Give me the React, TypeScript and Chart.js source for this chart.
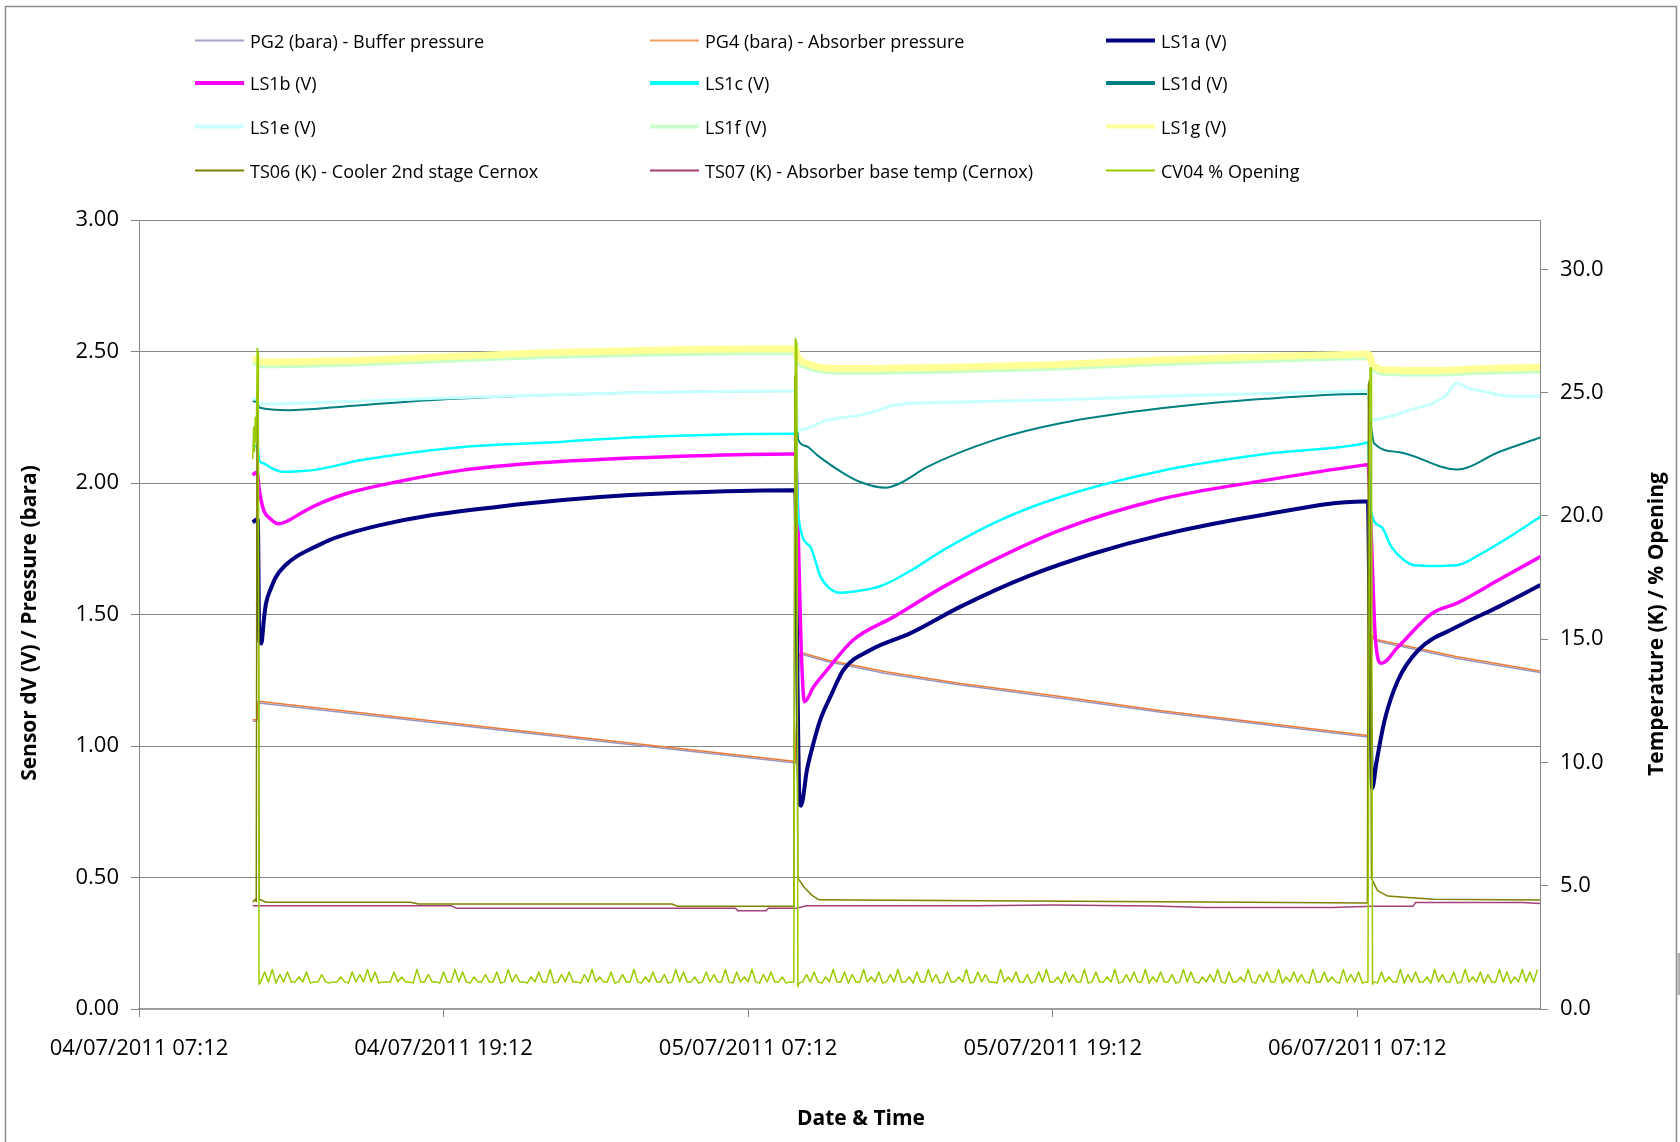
import React, { useEffect, useRef } from 'react';
import { Chart, registerables } from 'chart.js';

Chart.register(...registerables);

const W = 1680;
const H = 1142;
const FONT = '"Open Sans", "Liberation Sans", sans-serif';

// ---------- axis data ----------
const xMinHours = 0;
const xMaxHours = 55.2;
const xTickHours = [0, 12, 24, 36, 48];
const xTickLabels = ['04/07/2011 07:12', '04/07/2011 19:12', '05/07/2011 07:12', '05/07/2011 19:12', '06/07/2011 07:12'];
const leftAxisMax = 3;
const rightAxisMax = 32;

// ---------- series data (hours after 04/07/2011 07:12) ----------
const pgHours = [4.48, 4.64, 4.70, 4.80, 15.0, 25.8, 25.86, 26.0, 26.12, 27.11, 29.42, 32.37, 36.3, 40.27, 48.25, 48.45, 48.58, 48.75, 51.93, 55.22];
const pg2Values = [1.094, 1.094, 1.164, 1.163, 1.052, 0.936, 0.934, 1.344, 1.349, 1.321, 1.276, 1.232, 1.182, 1.128, 1.036, 1.034, 1.414, 1.399, 1.333, 1.279];
const pg4Values = [1.10, 1.10, 1.17, 1.169, 1.058, 0.942, 0.94, 1.35, 1.355, 1.327, 1.282, 1.238, 1.188, 1.134, 1.042, 1.04, 1.42, 1.405, 1.339, 1.285];

const ls1aHours = [4.48, 4.62, 4.68, 4.74, 4.82, 4.92, 5.0, 5.2, 5.4, 5.8, 6.2, 7.0, 7.5, 8.5, 9.5, 11.5, 14.1, 16.7, 19.35, 22.0, 25.8,
  25.86, 25.95, 26.02, 26.08, 26.32, 26.6, 26.84, 27.3, 27.76, 28.82, 30.4, 32.37, 34.99, 37.61, 40.27, 44.37, 48.25,
  48.42, 48.5, 48.59, 48.75, 49.08, 49.61, 50.41, 51.93, 53.58, 55.22];
const ls1aValues = [1.85, 1.86, 1.86, 1.40, 1.39, 1.48, 1.54, 1.60, 1.644, 1.69, 1.72, 1.76, 1.783, 1.815, 1.84, 1.877, 1.909, 1.935, 1.954, 1.965, 1.972,
  1.97, 1.2, 0.80, 0.773, 0.91, 1.02, 1.099, 1.2, 1.29, 1.365, 1.429, 1.53, 1.644, 1.732, 1.802, 1.88, 1.93,
  1.93, 1.3, 0.84, 0.934, 1.099, 1.251, 1.365, 1.453, 1.53, 1.612];

const ls1bHours = [4.48, 4.62, 4.68, 4.72, 4.9, 5.15, 5.5, 5.9, 6.46, 7.2, 8.18, 10.14, 12.76, 15.41, 19.35, 22.5, 25.8,
  25.86, 25.95, 26.08, 26.22, 26.58, 27.11, 28.14, 29.73, 31.69, 33.68, 36.3, 40.27, 44.37, 48.25,
  48.42, 48.55, 48.72, 48.95, 49.61, 50.94, 51.93, 53.58, 55.22];
const ls1bValues = [2.03, 2.04, 2.03, 1.99, 1.90, 1.866, 1.845, 1.858, 1.89, 1.925, 1.96, 2.004, 2.049, 2.074, 2.095, 2.105, 2.11,
  2.11, 1.9, 1.4, 1.168, 1.225, 1.289, 1.403, 1.491, 1.605, 1.707, 1.821, 1.939, 2.01, 2.068,
  2.07, 1.8, 1.4, 1.315, 1.377, 1.504, 1.543, 1.632, 1.72];

const ls1cHours = [4.48, 4.62, 4.68, 4.74, 4.9, 5.2, 5.66, 6.3, 6.86, 8.83, 12.76, 16.72, 19.35, 22.0, 25.8,
  25.86, 25.98, 26.45, 26.85, 27.2, 27.63, 28.5, 29.32, 30.5, 31.69, 33.93, 36.3, 40.27, 44.37, 48.25,
  48.42, 48.53, 48.95, 49.34, 49.8, 50.27, 51.0, 51.93, 52.9, 54.08, 55.22];
const ls1cValues = [2.14, 2.14, 2.13, 2.085, 2.075, 2.058, 2.043, 2.045, 2.049, 2.088, 2.137, 2.157, 2.173, 2.182, 2.187,
  2.187, 1.872, 1.757, 1.644, 1.6, 1.583, 1.592, 1.612, 1.672, 1.745, 1.859, 1.947, 2.046, 2.11, 2.15,
  2.155, 1.897, 1.833, 1.758, 1.71, 1.687, 1.684, 1.687, 1.732, 1.80, 1.872];

const ls1dHours = [4.48, 4.62, 4.68, 4.74, 5.9, 8.0, 11.4, 15.6, 19.35, 25.8,
  25.86, 25.94, 25.98, 26.3, 26.72, 27.76, 28.42, 29.41, 30.0, 31.06, 33.68, 36.3, 40.27, 44.37, 48.25,
  48.42, 48.53, 48.67, 49.61, 51.93, 53.58, 55.22];
const ls1dValues = [2.31, 2.31, 2.30, 2.287, 2.277, 2.29, 2.315, 2.333, 2.343, 2.35,
  2.35, 2.2, 2.163, 2.14, 2.106, 2.037, 2.004, 1.982, 2.0, 2.061, 2.163, 2.227, 2.284, 2.32, 2.338,
  2.338, 2.227, 2.15, 2.118, 2.051, 2.118, 2.173];

const ls1eHours = [4.48, 4.62, 4.68, 4.74, 6.0, 8.9, 11.4, 15.6, 19.35, 25.8,
  25.86, 25.98, 27.11, 28.4, 29.0, 29.75, 32.37, 36.3, 40.27, 44.37, 48.25,
  48.42, 48.53, 49.6, 50.27, 50.94, 51.46, 51.93, 52.4, 52.9, 53.96, 55.22];
const ls1eValues = [2.32, 2.32, 2.31, 2.30, 2.302, 2.312, 2.321, 2.333, 2.343, 2.35,
  2.35, 2.2, 2.239, 2.258, 2.272, 2.296, 2.308, 2.317, 2.33, 2.34, 2.35,
  2.35, 2.24, 2.262, 2.283, 2.302, 2.33, 2.38, 2.36, 2.35, 2.33, 2.33];

const ls1fgHours = [4.48, 4.62, 4.68, 4.74, 8, 12, 16, 19.35, 25.8,
  25.86, 25.95, 26.3, 27.76, 32, 36, 40.27, 44.37, 48.3,
  48.45, 48.6, 49.2, 51, 53, 55.22];
const ls1fValues = [2.456, 2.456, 2.456, 2.446, 2.451, 2.466, 2.481, 2.489, 2.496,
  2.496, 2.466, 2.441, 2.421, 2.426, 2.436, 2.454, 2.466, 2.476,
  2.476, 2.436, 2.416, 2.414, 2.421, 2.426];
const ls1gValues = [2.47, 2.47, 2.47, 2.46, 2.465, 2.48, 2.495, 2.503, 2.51,
  2.51, 2.48, 2.455, 2.435, 2.44, 2.45, 2.468, 2.48, 2.49,
  2.49, 2.45, 2.43, 2.428, 2.435, 2.44];

const ts06Hours = [4.48, 4.58, 4.62, 4.65, 4.69, 4.74, 5.0, 10.7, 11, 21, 21.2, 25.8, 25.84, 25.88, 25.96, 26.2, 26.5, 26.8, 28, 35, 42, 48.4, 48.44, 48.48, 48.56, 48.8, 49.2, 50, 51, 55.22];
const ts06Values = [4.33, 4.45, 4.35, 25.0, 25.3, 4.45, 4.33, 4.33, 4.26, 4.26, 4.17, 4.17, 25.6, 25.8, 5.31, 4.95, 4.62, 4.43, 4.42, 4.38, 4.34, 4.3, 25.3, 25.5, 5.3, 4.8, 4.58, 4.52, 4.45, 4.42];

const ts07Hours = [4.48, 12.3, 12.5, 23.5, 23.6, 24.7, 24.8, 25.9, 26.3, 33, 36, 40, 42, 47, 48.6, 50.2, 50.3, 54.5, 55.22];
const ts07Values = [4.19, 4.19, 4.09, 4.09, 3.98, 3.98, 4.09, 4.09, 4.19, 4.19, 4.22, 4.18, 4.12, 4.12, 4.17, 4.17, 4.32, 4.32, 4.28];

// CV04: regeneration spikes
const cv04Event1Hours = [4.48, 4.52, 4.55, 4.58, 4.62, 4.66, 4.70, 4.73];
const cv04Event1Values = [22.3, 23.6, 22.6, 24.0, 23.0, 26.8, 26.6, 1.0];
const cv04Event2Hours = [25.8, 25.86, 25.92, 25.96];
const cv04Event2Values = [1.1, 27.2, 27.0, 0.9];
const cv04Event3Hours = [48.42, 48.5, 48.56, 48.6];
const cv04Event3Values = [1.1, 26.0, 26.0, 1.0];
// CV04: sampled readings between events (every 0.15 h)
const cv04SampleStep = 0.15;
const cv04SegAStart = 4.8;
const cv04SegAValues = [
  1.1, 1.5, 1.1, 1.6, 1.05, 1.4, 1.1, 1.5, 1.1, 1.1, 1.3, 1.1, 1.5, 1.05, 1.1, 1.1, 1.4, 1.1, 1.05, 1.1,
  1.1, 1.3, 1.1, 1.05, 1.5, 1.1, 1.4, 1.1, 1.6, 1.1, 1.5, 1.05, 1.1, 1.1, 1.1, 1.5, 1.1, 1.3, 1.1, 1.1,
  1.05, 1.6, 1.1, 1.1, 1.4, 1.1, 1.1, 1.05, 1.5, 1.1, 1.1, 1.6, 1.1, 1.5, 1.1, 1.05, 1.3, 1.1, 1.1, 1.4,
  1.1, 1.1, 1.5, 1.05, 1.1, 1.6, 1.1, 1.4, 1.1, 1.1, 1.05, 1.3, 1.1, 1.5, 1.1, 1.1, 1.6, 1.05, 1.1, 1.4,
  1.1, 1.5, 1.1, 1.1, 1.05, 1.4, 1.1, 1.6, 1.1, 1.3, 1.1, 1.1, 1.5, 1.05, 1.1, 1.4, 1.1, 1.1, 1.6, 1.1,
  1.05, 1.3, 1.1, 1.5, 1.1, 1.1, 1.4, 1.05, 1.1, 1.6, 1.1, 1.5, 1.1, 1.1, 1.3, 1.05, 1.1, 1.5, 1.1, 1.4,
  1.1, 1.1, 1.6, 1.1, 1.05, 1.5, 1.1, 1.3, 1.1, 1.6, 1.1, 1.05, 1.4, 1.1, 1.5, 1.1, 1.1, 1.3, 1.05, 1.1,
];
const cv04SegBStart = 26.0;
const cv04SegBValues = [
  1.05, 1.1, 1.4, 1.1, 1.5, 1.1, 1.05, 1.3, 1.1, 1.6, 1.1, 1.1, 1.5, 1.05, 1.4, 1.1, 1.1, 1.6, 1.1, 1.3,
  1.1, 1.5, 1.05, 1.1, 1.4, 1.1, 1.6, 1.1, 1.1, 1.3, 1.05, 1.5, 1.1, 1.1, 1.6, 1.1, 1.4, 1.05, 1.1, 1.5,
  1.1, 1.1, 1.3, 1.1, 1.6, 1.05, 1.1, 1.5, 1.1, 1.4, 1.1, 1.1, 1.05, 1.6, 1.1, 1.3, 1.1, 1.5, 1.1, 1.1,
  1.4, 1.05, 1.1, 1.5, 1.1, 1.6, 1.1, 1.1, 1.3, 1.05, 1.5, 1.1, 1.4, 1.1, 1.1, 1.6, 1.05, 1.1, 1.5, 1.1,
  1.1, 1.3, 1.1, 1.6, 1.05, 1.1, 1.4, 1.1, 1.5, 1.1, 1.1, 1.6, 1.05, 1.3, 1.1, 1.5, 1.1, 1.1, 1.4, 1.05,
  1.1, 1.6, 1.1, 1.5, 1.1, 1.05, 1.3, 1.1, 1.4, 1.1, 1.6, 1.1, 1.05, 1.5, 1.1, 1.1, 1.3, 1.1, 1.6, 1.1,
  1.05, 1.4, 1.1, 1.5, 1.1, 1.1, 1.6, 1.05, 1.3, 1.1, 1.5, 1.1, 1.4, 1.1, 1.05, 1.6, 1.1, 1.1, 1.5, 1.1,
  1.3, 1.1, 1.05, 1.6, 1.1, 1.4, 1.1, 1.5, 1.05, 1.1,
];
const cv04SegCStart = 48.65;
const cv04SegCValues = [
  1.1, 1.05, 1.5, 1.1, 1.3, 1.1, 1.1, 1.6, 1.05, 1.4, 1.1, 1.5, 1.1, 1.1, 1.3, 1.05, 1.6, 1.1, 1.4, 1.1,
  1.1, 1.5, 1.05, 1.1, 1.6, 1.1, 1.3, 1.1, 1.5, 1.05, 1.4, 1.1, 1.1, 1.6, 1.1, 1.5, 1.05, 1.3, 1.1, 1.6,
  1.1, 1.5, 1.1, 1.6,
];

// ---------- helpers ----------
const pairs = (hours: number[], values: number[]) => hours.map((x, i) => ({ x, y: values[i] }));
const sampled = (start: number, step: number, values: number[]) => values.map((y, i) => ({ x: start + i * step, y }));

const cv04Points = [
  ...pairs(cv04Event1Hours, cv04Event1Values),
  ...sampled(cv04SegAStart, cv04SampleStep, cv04SegAValues),
  ...pairs(cv04Event2Hours, cv04Event2Values),
  ...sampled(cv04SegBStart, cv04SampleStep, cv04SegBValues),
  ...pairs(cv04Event3Hours, cv04Event3Values),
  ...sampled(cv04SegCStart, cv04SampleStep, cv04SegCValues),
];

type Series = { label: string; points: { x: number; y: number }[]; color: string; legendColor: string; width: number; legendWidth: number; axis: 'y' | 'y1'; smooth: boolean };

const series: Series[] = [
  { label: 'PG2 (bara) - Buffer pressure', points: pairs(pgHours, pg2Values), color: '#9696C4', legendColor: '#A3A3C8', width: 1.5, legendWidth: 2, axis: 'y', smooth: false },
  { label: 'PG4 (bara) - Absorber pressure', points: pairs(pgHours, pg4Values), color: '#EE7A36', legendColor: '#F79A5E', width: 1.5, legendWidth: 2, axis: 'y', smooth: false },
  { label: 'LS1a (V)', points: pairs(ls1aHours, ls1aValues), color: '#000080', legendColor: '#000080', width: 4, legendWidth: 4, axis: 'y', smooth: true },
  { label: 'LS1b (V)', points: pairs(ls1bHours, ls1bValues), color: '#FF00FF', legendColor: '#FF00FF', width: 3.5, legendWidth: 4, axis: 'y', smooth: true },
  { label: 'LS1c (V)', points: pairs(ls1cHours, ls1cValues), color: '#00FFFF', legendColor: '#00FFFF', width: 2.5, legendWidth: 4, axis: 'y', smooth: true },
  { label: 'LS1d (V)', points: pairs(ls1dHours, ls1dValues), color: '#008080', legendColor: '#008080', width: 2, legendWidth: 4, axis: 'y', smooth: true },
  { label: 'LS1e (V)', points: pairs(ls1eHours, ls1eValues), color: '#C8FFFF', legendColor: '#CCFFFF', width: 3, legendWidth: 4, axis: 'y', smooth: true },
  { label: 'LS1f (V)', points: pairs(ls1fgHours, ls1fValues), color: '#C8FFC8', legendColor: '#CCFFCC', width: 5, legendWidth: 4, axis: 'y', smooth: true },
  { label: 'LS1g (V)', points: pairs(ls1fgHours, ls1gValues), color: '#FFFF96', legendColor: '#FFFF99', width: 7, legendWidth: 4, axis: 'y', smooth: true },
  { label: 'TS06 (K) - Cooler 2nd stage Cernox', points: pairs(ts06Hours, ts06Values), color: '#808000', legendColor: '#808000', width: 1.5, legendWidth: 2, axis: 'y1', smooth: false },
  { label: 'TS07 (K) - Absorber base temp (Cernox)', points: pairs(ts07Hours, ts07Values), color: '#A3407A', legendColor: '#A3407A', width: 1.5, legendWidth: 2, axis: 'y1', smooth: false },
  { label: 'CV04 % Opening', points: cv04Points, color: '#99CC00', legendColor: '#99CC00', width: 1.5, legendWidth: 2, axis: 'y1', smooth: false },
];

// ---------- layout constants ----------
const legendColX = [195, 650, 1106];
const legendRowY = [41, 83.5, 127, 171];
const legendLineLen = 49;
const legendTextGap = 55;

const decorPlugin = {
  id: 'decor',
  beforeDraw(chart: any) {
    const ctx = chart.ctx as CanvasRenderingContext2D;
    ctx.save();
    ctx.fillStyle = '#ffffff';
    ctx.fillRect(0, 0, W, H);
    ctx.strokeStyle = '#8C8C8C';
    ctx.lineWidth = 1.5;
    ctx.beginPath();
    ctx.moveTo(5.5, H + 5);
    ctx.lineTo(5.5, 6.5);
    ctx.lineTo(1676.5, 6.5);
    ctx.lineTo(1676.5, H + 5);
    ctx.stroke();
    ctx.fillStyle = '#B0B0B0';
    ctx.fillRect(1677.5, 953, 3, 42);
    ctx.restore();
  },
  afterDraw(chart: any) {
    const ctx = chart.ctx as CanvasRenderingContext2D;
    ctx.save();
    // legend
    ctx.font = `18px ${FONT}`;
    ctx.textAlign = 'left';
    ctx.textBaseline = 'alphabetic';
    series.forEach((s, i) => {
      const col = i % 3;
      const row = Math.floor(i / 3);
      const x = legendColX[col];
      const y = legendRowY[row];
      ctx.strokeStyle = s.legendColor;
      ctx.lineWidth = s.legendWidth;
      ctx.lineCap = 'butt';
      ctx.beginPath();
      ctx.moveTo(x, y - 0.5);
      ctx.lineTo(x + legendLineLen, y - 0.5);
      ctx.stroke();
      ctx.fillStyle = '#000000';
      ctx.fillText(s.label, x + legendTextGap, y + 6.5);
    });
    // axis titles
    ctx.fillStyle = '#000000';
    ctx.font = `bold 21px ${FONT}`;
    ctx.textAlign = 'center';
    ctx.textBaseline = 'alphabetic';
    ctx.fillText('Date & Time', 861, 1125);

    ctx.save();
    ctx.translate(35.5, 623);
    ctx.rotate(-Math.PI / 2);
    ctx.fillText('Sensor dV (V) / Pressure (bara)', 0, 0);
    ctx.restore();

    ctx.save();
    ctx.translate(1663, 624);
    ctx.rotate(-Math.PI / 2);
    ctx.fillText('Temperature (K) / % Opening', 0, 0);
    ctx.restore();

    ctx.restore();
  },
};

export default function App() {
  const canvasRef = useRef<HTMLCanvasElement | null>(null);

  useEffect(() => {
    const canvas = canvasRef.current;
    if (!canvas) return;
    const n = series.length;
    const tickFont = { family: FONT, size: 22 };
    const chart = new Chart(canvas, {
      type: 'line',
      data: {
        datasets: series.map((s, i) => ({
          label: s.label,
          data: s.points,
          yAxisID: s.axis,
          borderColor: s.color,
          backgroundColor: s.color,
          borderWidth: s.width,
          pointRadius: 0,
          pointHoverRadius: 0,
          fill: false,
          tension: 0,
          cubicInterpolationMode: s.smooth ? 'monotone' : 'default',
          borderJoinStyle: 'round',
          borderCapStyle: 'butt',
          order: n - i,
        })) as any,
      },
      options: {
        responsive: false,
        maintainAspectRatio: false,
        animation: false,
        devicePixelRatio: 1,
        events: [],
        layout: { padding: { top: 220, left: 0, right: 0, bottom: 0 } },
        plugins: {
          legend: { display: false },
          tooltip: { enabled: false },
          title: { display: false },
        },
        scales: {
          x: {
            type: 'linear',
            position: 'bottom',
            min: xMinHours,
            max: xMaxHours,
            afterFit: (scale: any) => { scale.height = 133; },
            ticks: {
              stepSize: 12,
              includeBounds: false,
              autoSkip: false,
              maxRotation: 0,
              minRotation: 0,
              padding: 19,
              color: '#000000',
              font: tickFont,
              callback: (v: any) => {
                const idx = xTickHours.indexOf(Number(v));
                return idx >= 0 ? xTickLabels[idx] : '';
              },
            },
            grid: { drawOnChartArea: false, drawTicks: true, tickLength: 8, color: '#868686', lineWidth: 1 },
            border: { display: true, color: '#9E9E9E', width: 2 },
          },
          y: {
            type: 'linear',
            position: 'left',
            min: 0,
            max: leftAxisMax,
            afterFit: (scale: any) => { scale.width = 139; },
            ticks: {
              stepSize: 0.5,
              padding: 12,
              color: '#000000',
              font: tickFont,
              callback: (v: any) => Number(v).toFixed(2),
            },
            grid: { drawOnChartArea: true, drawTicks: true, tickLength: 8, color: '#868686', lineWidth: 1 },
            border: { display: true, color: '#868686', width: 1 },
          },
          y1: {
            type: 'linear',
            position: 'right',
            min: 0,
            max: rightAxisMax,
            afterFit: (scale: any) => { scale.width = 140; },
            ticks: {
              stepSize: 5,
              includeBounds: false,
              padding: 12,
              color: '#000000',
              font: tickFont,
              callback: (v: any) => Number(v).toFixed(1),
            },
            grid: { drawOnChartArea: false, drawTicks: true, tickLength: 8, color: '#868686', lineWidth: 1 },
            border: { display: true, color: '#868686', width: 1 },
          },
        },
      } as any,
      plugins: [decorPlugin],
    });
    return () => chart.destroy();
  }, []);

  return (
    <div style={{ position: 'absolute', left: 0, top: 0, width: W, height: H }}>
      <canvas ref={canvasRef} width={W} height={H} style={{ display: 'block', width: W, height: H }} />
    </div>
  );
}
